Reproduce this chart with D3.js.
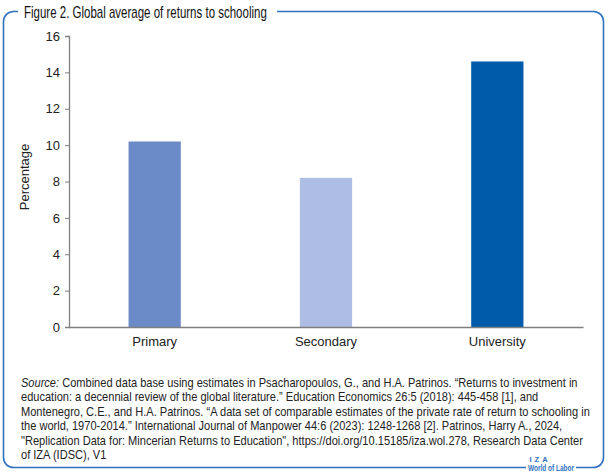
<!DOCTYPE html>
<html><head><meta charset="utf-8">
<script src="https://cdn.jsdelivr.net/npm/d3@7"></script>
<style>
body{margin:0;background:#fff;}
svg{display:block;}
</style></head>
<body>
<svg id="chart" width="608" height="476"></svg>
<script>
const categories = ["Primary", "Secondary", "University"];
const values = [10.2, 8.2, 14.6];
const barColors = ["#6a8bc7", "#adbde3", "#005bab"];
const yTicks = [0, 2, 4, 6, 8, 10, 12, 14, 16];
const title = "Figure 2. Global average of returns to schooling";
const yLabel = "Percentage";
const sourceLines = [
  ["Source:", " Combined data base using estimates in Psacharopoulos, G., and H.A. Patrinos. \u201cReturns to investment in"],
  ["", "education: a decennial review of the global literature.\u201d Education Economics 26:5 (2018): 445-458 [1], and"],
  ["", "Montenegro, C.E., and H.A. Patrinos. \u201cA data set of comparable estimates of the private rate of return to schooling in"],
  ["", "the world, 1970-2014.\u201d International Journal of Manpower 44:6 (2023): 1248-1268 [2]. Patrinos, Harry A., 2024,"],
  ["", "\"Replication Data for: Mincerian Returns to Education\", https://doi.org/10.15185/iza.wol.278, Research Data Center"],
  ["", "of IZA (IDSC), V1"]
];

const svg = d3.select("#chart");
const frameColor = "#2f72c0";
const sans = "'Liberation Sans',Arial,sans-serif";

// Frame
const L = 3.5, R = 603.5, T = 11.5, B = 467.5, r = 10;
const titleEnd = 277, titleStart = 18;
const logoStart = 526, logoEnd = 576;
const frame = d3.path();
frame.moveTo(titleStart, T);
frame.lineTo(L + r, T);
frame.arcTo(L, T, L, T + r, r);
frame.lineTo(L, B - r);
frame.arcTo(L, B, L + r, B, r);
frame.lineTo(logoStart, B);
frame.moveTo(logoEnd, B);
frame.lineTo(R - r, B);
frame.arcTo(R, B, R, B - r, r);
frame.lineTo(R, T + r);
frame.arcTo(R, T, R - r, T, r);
frame.lineTo(titleEnd, T);
svg.append("path").attr("d", frame.toString()).attr("fill", "none")
  .attr("stroke", frameColor).attr("stroke-width", 1.6);

// Title, condensed horizontally to match the narrow face
const titleG = svg.append("g");
const titleT = titleG.append("text").attr("x", 0).attr("y", 0).attr("font-family", sans)
  .attr("font-size", 16).attr("fill", "#111").text(title);
const tw = titleT.node().getComputedTextLength();
titleG.attr("transform", `translate(24,17.5) scale(${(267 - 24) / tw},1)`);

// Scales
const y = d3.scaleLinear().domain([0, 16]).range([327, 36]);
const x = d3.scaleBand().domain(categories).range([69, 583]).padding(0);
const barW = x.bandwidth() * 0.305;

const g = svg.append("g");
g.selectAll("rect.bar").data(categories).join("rect")
  .attr("class", "bar")
  .attr("x", d => x(d) + x.bandwidth() / 2 - barW / 2)
  .attr("width", barW)
  .attr("y", (d, i) => y(values[i]))
  .attr("height", (d, i) => y(0) - y(values[i]))
  .attr("fill", (d, i) => barColors[i]);

// Y axis
const yAxis = g.append("g").attr("transform", "translate(69,0)")
  .call(d3.axisLeft(y).tickValues(yTicks).tickSize(4).tickPadding(5).tickFormat(d3.format("d")));
yAxis.select(".domain").attr("stroke", "#7f7f7f").attr("stroke-width", 1.3);
yAxis.selectAll(".tick line").attr("stroke", "#7f7f7f");
yAxis.selectAll(".tick text").attr("font-family", sans).attr("font-size", 13).attr("fill", "#222");

// X axis
const xAxis = g.append("g").attr("transform", `translate(0,${y(0)})`)
  .call(d3.axisBottom(x).tickSize(0).tickPadding(10));
xAxis.select(".domain").attr("stroke", "#7f7f7f").attr("stroke-width", 1.3);
xAxis.selectAll(".tick text").attr("font-family", sans).attr("font-size", 13).attr("fill", "#222");

svg.append("text").attr("transform", "translate(29,177) rotate(-90)")
  .attr("text-anchor", "middle").attr("font-family", sans).attr("font-size", 13)
  .attr("fill", "#222").text(yLabel);

// Source, condensed horizontally
const srcG = svg.append("g");
const src = srcG.append("g").attr("font-family", sans).attr("font-size", 12.8).attr("fill", "#222");
const nodes = [];
sourceLines.forEach((ln, i) => {
  const t = src.append("text").attr("x", 0).attr("y", i * 14.5);
  if (ln[0]) t.append("tspan").attr("font-style", "italic").text(ln[0]);
  t.append("tspan").text(ln[1]);
  nodes.push(t.node());
});
const w3 = nodes[2].getComputedTextLength();
srcG.attr("transform", `translate(21,387) scale(${(590 - 21) / w3},1)`);

// Logo
const izaT = svg.append("text").attr("x", 0).attr("y", 0).attr("font-family", sans)
  .attr("font-size", 7.5).attr("font-weight", "bold").attr("fill", frameColor)
  .attr("letter-spacing", 3).text("IZA");
izaT.attr("transform", "translate(529.5,461.5)");
const logoT = svg.append("text").attr("x", 0).attr("y", 0).attr("font-family", sans)
  .attr("font-size", 9).attr("font-weight", "bold").attr("fill", frameColor)
  .text("World of Labor");
const lw = logoT.node().getComputedTextLength();
logoT.attr("transform", `translate(528,471) scale(${(574 - 528) / lw},1)`);
</script>
</body></html>
